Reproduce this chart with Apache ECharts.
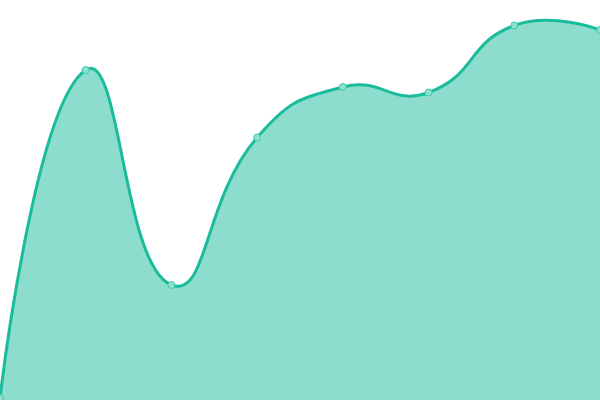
<!DOCTYPE html>
<html>
<head>
<meta charset="utf-8">
<script src="https://cdn.jsdelivr.net/npm/echarts@6/dist/echarts.min.js"></script>
<style>html,body{margin:0;padding:0;background:#fff}#c{width:600px;height:400px}</style>
</head>
<body>
<div id="c"></div>
<script>
const categories = ['1', '2', '3', '4', '5', '6', '7', '8'];
const values = [2, 330, 115, 262.5, 313, 307.5, 374.5, 370];

const SMOOTH = 0.5;

function buildPath(pts) {
  // cardinal-style bezier smoothing (unclamped)
  let d = 'M' + pts[0][0] + ' ' + pts[0][1];
  let cp0 = pts[0].slice();
  for (let i = 1; i < pts.length; i++) {
    const p = pts[i], prev = pts[i - 1], next = pts[i + 1];
    let cp1, ratio = 0.5, v = [0, 0];
    if (!next) {
      cp1 = p.slice();
    } else {
      v = [next[0] - prev[0], next[1] - prev[1]];
      const l0 = Math.hypot(p[0] - prev[0], p[1] - prev[1]);
      const l1 = Math.hypot(next[0] - p[0], next[1] - p[1]);
      ratio = l1 / (l0 + l1);
      cp1 = [p[0] - v[0] * SMOOTH * (1 - ratio), p[1] - v[1] * SMOOTH * (1 - ratio)];
    }
    d += ' C' + cp0[0] + ' ' + cp0[1] + ' ' + cp1[0] + ' ' + cp1[1] + ' ' + p[0] + ' ' + p[1];
    cp0 = [p[0] + v[0] * SMOOTH * ratio, p[1] + v[1] * SMOOTH * ratio];
  }
  return d;
}

const chart = echarts.init(document.getElementById('c'));
chart.setOption({
  animation: false,
  grid: { left: 0, right: 0, top: 0, bottom: 0 },
  xAxis: { type: 'category', data: categories, boundaryGap: false, show: false },
  yAxis: { type: 'value', min: 0, max: 400, show: false },
  series: [{
    type: 'custom',
    data: values.map((v, i) => [i, v]),
    encode: { x: 0, y: 1 },
    clip: false,
    z: 2,
    renderItem: function (params, api) {
      if (params.dataIndex !== 0) return null;
      const pts = values.map((v, i) => api.coord([i, v]));
      const base = api.coord([0, 0])[1];
      const top = buildPath(pts);
      const last = pts[pts.length - 1];
      const area = top + ' L' + last[0] + ' ' + base + ' L' + pts[0][0] + ' ' + base + ' Z';
      return {
        type: 'group',
        children: [
          { type: 'path', shape: { pathData: area }, style: { fill: 'rgba(26,188,156,0.5)', stroke: null } },
          { type: 'path', shape: { pathData: top }, style: { fill: null, stroke: '#1abc9c', lineWidth: 3 } }
        ]
      };
    }
  }, {
    type: 'line',
    data: values,
    z: 3,
    symbol: 'circle',
    symbolSize: 7,
    showSymbol: true,
    lineStyle: { opacity: 0, width: 0 },
    itemStyle: { color: '#8ee0cf', borderColor: '#3cc7aa', borderWidth: 1 }
  }]
});
</script>
</body>
</html>
